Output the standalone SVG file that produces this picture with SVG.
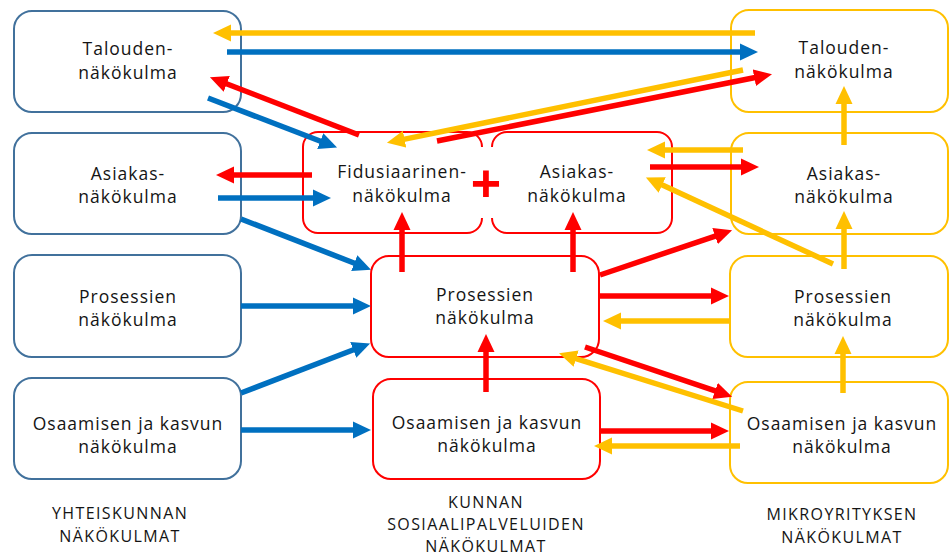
<svg xmlns="http://www.w3.org/2000/svg" width="950" height="557" viewBox="0 0 950 557">
  <style>
    .box { fill: #ffffff; stroke-width: 2; }
    .soc { stroke: #41719C; }
    .mun { stroke: #FF0000; fill: none; }
    .mic { stroke: #FFC000; }
    .lbl { font-family: "Open Sans", "Liberation Sans", sans-serif; font-size: 17.5px; letter-spacing: 1px; fill: #141414; text-anchor: middle; }
    .cap { font-family: "Open Sans", "Liberation Sans", sans-serif; font-size: 16px; letter-spacing: 1.4px; fill: #141414; text-anchor: middle; }
    .blue { stroke: #0070C0; stroke-width: 5.5; fill: none; }
    .red { stroke: #FF0000; stroke-width: 5.5; fill: none; }
    .yel { stroke: #FFC000; stroke-width: 5.5; fill: none; }
  </style>
  <defs>
    <marker id="ahBlue" markerUnits="userSpaceOnUse" markerWidth="20" markerHeight="18" viewBox="0 -9 20 18" refX="1" refY="0" orient="auto">
      <path d="M0,-8.5 L18,0 L0,8.5 z" fill="#0070C0"/>
    </marker>
    <marker id="ahRed" markerUnits="userSpaceOnUse" markerWidth="20" markerHeight="18" viewBox="0 -9 20 18" refX="1" refY="0" orient="auto">
      <path d="M0,-8.5 L18,0 L0,8.5 z" fill="#FF0000"/>
    </marker>
    <marker id="ahYel" markerUnits="userSpaceOnUse" markerWidth="20" markerHeight="18" viewBox="0 -9 20 18" refX="1" refY="0" orient="auto">
      <path d="M0,-8.5 L18,0 L0,8.5 z" fill="#FFC000"/>
    </marker>
  </defs>

  <rect width="950" height="557" fill="#ffffff"/>

  <!-- Society perspectives (left column) -->
  <g id="soc-talous">
    <rect class="box soc" x="14" y="11" width="227" height="101" rx="18"/>
    <text class="lbl" x="128" y="55">Talouden-</text>
    <text class="lbl" x="128" y="79">näkökulma</text>
  </g>
  <g id="soc-asiakas">
    <rect class="box soc" x="14" y="133" width="227" height="101" rx="18"/>
    <text class="lbl" x="128" y="180">Asiakas-</text>
    <text class="lbl" x="128" y="203">näkökulma</text>
  </g>
  <g id="soc-prosessit">
    <rect class="box soc" x="14" y="255" width="227" height="102" rx="18"/>
    <text class="lbl" x="128" y="303">Prosessien</text>
    <text class="lbl" x="128" y="326">näkökulma</text>
  </g>
  <g id="soc-osaaminen">
    <rect class="box soc" x="14" y="378" width="227" height="101" rx="18"/>
    <text class="lbl" x="128" y="430">Osaamisen ja kasvun</text>
    <text class="lbl" x="128" y="453">näkökulma</text>
  </g>

  <!-- Municipal social services perspectives (middle column) -->
  <g id="mun-fidusiaarinen">
    <path class="mun" stroke-width="2" d="M482,147 A15,15 0 0 0 467,132 H318 A15,15 0 0 0 303,147 V218 A15,15 0 0 0 318,233 H467 A15,15 0 0 0 482,218"/>
    <text class="lbl" x="402" y="178">Fidusiaarinen-</text>
    <text class="lbl" x="402" y="202">näkökulma</text>
  </g>
  <g id="mun-plus">
    <text x="486" y="201" font-family="Liberation Sans, Arial, sans-serif" font-size="52" font-weight="bold" fill="#FF0000" text-anchor="middle">+</text>
  </g>
  <g id="mun-asiakas">
    <path class="mun" stroke-width="2" d="M492,147 A15,15 0 0 1 507,132 H657 A15,15 0 0 1 672,147 V218 A15,15 0 0 1 657,233 H507 A15,15 0 0 1 492,218"/>
    <text class="lbl" x="577" y="178">Asiakas-</text>
    <text class="lbl" x="577" y="202">näkökulma</text>
  </g>
  <g id="mun-prosessit">
    <rect class="box" stroke="#FF0000" x="371" y="256" width="228" height="101" rx="18"/>
    <text class="lbl" x="485" y="301">Prosessien</text>
    <text class="lbl" x="485" y="324">näkökulma</text>
  </g>
  <g id="mun-osaaminen">
    <rect class="box" stroke="#FF0000" x="373" y="379" width="227" height="100" rx="18"/>
    <text class="lbl" x="487" y="429">Osaamisen ja kasvun</text>
    <text class="lbl" x="487" y="452">näkökulma</text>
  </g>

  <!-- Micro-enterprise perspectives (right column) -->
  <g id="mic-talous">
    <rect class="box mic" x="731" y="10" width="217" height="102" rx="18"/>
    <text class="lbl" x="844" y="54">Talouden-</text>
    <text class="lbl" x="844" y="78">näkökulma</text>
  </g>
  <g id="mic-asiakas">
    <rect class="box mic" x="731" y="133" width="217" height="101" rx="18"/>
    <text class="lbl" x="844" y="180">Asiakas-</text>
    <text class="lbl" x="844" y="203">näkökulma</text>
  </g>
  <g id="mic-prosessit">
    <rect class="box mic" x="730" y="256" width="218" height="101" rx="18"/>
    <text class="lbl" x="843" y="303">Prosessien</text>
    <text class="lbl" x="843" y="326">näkökulma</text>
  </g>
  <g id="mic-osaaminen">
    <rect class="box mic" x="730" y="382" width="218" height="101" rx="18"/>
    <text class="lbl" x="842" y="430">Osaamisen ja kasvun</text>
    <text class="lbl" x="842" y="453">näkökulma</text>
  </g>

  <!-- Column captions -->
  <g id="caption-society">
    <text class="cap" x="120" y="519">YHTEISKUNNAN</text>
    <text class="cap" x="120" y="542">NÄKÖKULMAT</text>
  </g>
  <g id="caption-municipal">
    <text class="cap" x="486" y="508">KUNNAN</text>
    <text class="cap" x="486" y="530">SOSIAALIPALVELUIDEN</text>
    <text class="cap" x="486" y="552">NÄKÖKULMAT</text>
  </g>
  <g id="caption-micro">
    <text class="cap" x="842" y="520">MIKROYRITYKSEN</text>
    <text class="cap" x="842" y="543">NÄKÖKULMAT</text>
  </g>

  <!-- Connectors -->
  <g id="connectors">
    <!-- society (blue) -->
    <line class="blue" x1="227" y1="52" x2="741" y2="52" marker-end="url(#ahBlue)"/>
    <line class="blue" x1="208" y1="98" x2="321.2" y2="141.5" marker-end="url(#ahBlue)"/>
    <line class="blue" x1="218" y1="198" x2="314" y2="198" marker-end="url(#ahBlue)"/>
    <line class="blue" x1="241" y1="219" x2="355.2" y2="263.5" marker-end="url(#ahBlue)"/>
    <line class="blue" x1="241" y1="306" x2="354" y2="306" marker-end="url(#ahBlue)"/>
    <line class="blue" x1="241" y1="393" x2="354.2" y2="349.5" marker-end="url(#ahBlue)"/>
    <line class="blue" x1="241" y1="430" x2="354" y2="430" marker-end="url(#ahBlue)"/>

    <!-- municipal (red) -->
    <line class="red" x1="359" y1="135" x2="225.8" y2="83.5" marker-end="url(#ahRed)"/>
    <line class="red" x1="312" y1="175" x2="233" y2="175" marker-end="url(#ahRed)"/>
    <line class="red" x1="437" y1="141" x2="755.3" y2="77.5" marker-end="url(#ahRed)"/>
    <line class="red" x1="402" y1="272" x2="402" y2="229" marker-end="url(#ahRed)"/>
    <line class="red" x1="573" y1="272" x2="573" y2="229" marker-end="url(#ahRed)"/>
    <line class="red" x1="600" y1="275" x2="716" y2="235.8" marker-end="url(#ahRed)"/>
    <line class="red" x1="600" y1="296" x2="712" y2="296" marker-end="url(#ahRed)"/>
    <line class="red" x1="585" y1="347" x2="716" y2="391.2" marker-end="url(#ahRed)"/>
    <line class="red" x1="600" y1="431" x2="712" y2="431" marker-end="url(#ahRed)"/>
    <line class="red" x1="486" y1="392" x2="486" y2="351" marker-end="url(#ahRed)"/>
    <line class="red" x1="650" y1="167" x2="742" y2="167" marker-end="url(#ahRed)"/>

    <!-- micro-enterprise (yellow) -->
    <line class="yel" x1="755" y1="33" x2="230" y2="33" marker-end="url(#ahYel)"/>
    <line class="yel" x1="743" y1="70" x2="403.6" y2="139.4" marker-end="url(#ahYel)"/>
    <line class="yel" x1="743" y1="150" x2="664" y2="150" marker-end="url(#ahYel)"/>
    <line class="yel" x1="833" y1="264" x2="661.3" y2="184.6" marker-end="url(#ahYel)"/>
    <line class="yel" x1="844" y1="145" x2="844" y2="103" marker-end="url(#ahYel)"/>
    <line class="yel" x1="844" y1="269" x2="844" y2="228" marker-end="url(#ahYel)"/>
    <line class="yel" x1="730" y1="321" x2="620" y2="321" marker-end="url(#ahYel)"/>
    <line class="yel" x1="743" y1="411" x2="575.2" y2="358.4" marker-end="url(#ahYel)"/>
    <line class="yel" x1="843" y1="393" x2="843" y2="353" marker-end="url(#ahYel)"/>
    <line class="yel" x1="740" y1="446" x2="611" y2="446" marker-end="url(#ahYel)"/>
  </g>
</svg>
